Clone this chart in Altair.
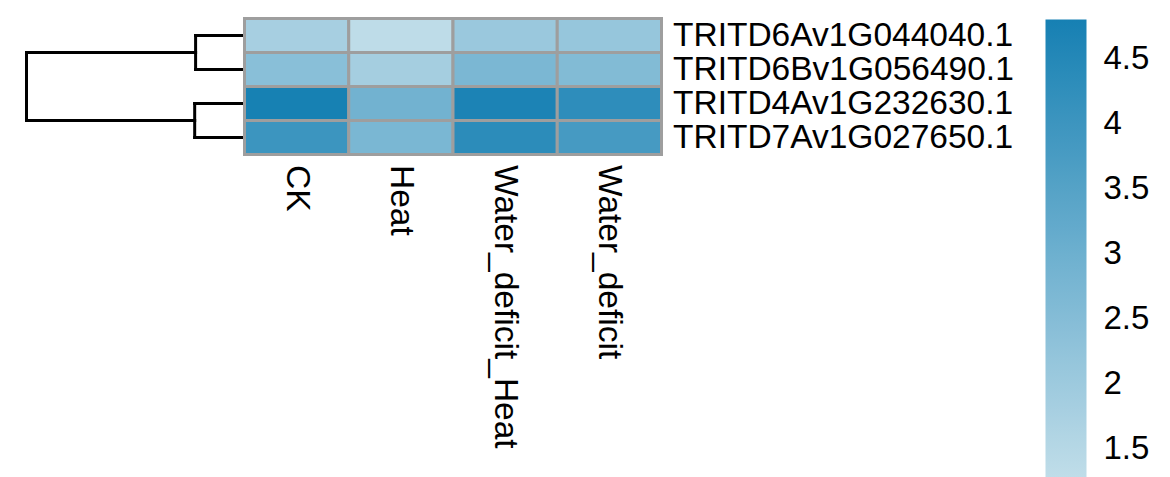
import altair as alt
import pandas as pd

genes = ["TRITD6Av1G044040.1", "TRITD6Bv1G056490.1", "TRITD4Av1G232630.1", "TRITD7Av1G027650.1"]
conditions = ["CK", "Heat", "Water_deficit_Heat", "Water_deficit"]

v_6A_044040 = [1.80, 1.32, 2.07, 2.15]
v_6B_056490 = [2.42, 1.84, 2.71, 2.56]
v_4A_232630 = [4.78, 2.89, 4.68, 4.30]
v_7A_027650 = [4.01, 2.73, 4.34, 3.81]

legend_values = [1.5, 2, 2.5, 3, 3.5, 4, 4.5]
color_domain = [1.28, 4.8]
color_range = ["#c0dde9", "#1680b3"]

# dendrogram merge heights (row clustering)
merge_top = 1.07      # rows 1 & 2
merge_bottom = 1.09   # rows 3 & 4
merge_root = 4.77     # root

rows = []
for g, vals in zip(genes, [v_6A_044040, v_6B_056490, v_4A_232630, v_7A_027650]):
    for c, v in zip(conditions, vals):
        rows.append({"gene": g, "condition": c, "value": v})
df = pd.DataFrame(rows)

leaf = [i + 0.5 for i in range(len(genes))]
mid_top = (leaf[0] + leaf[1]) / 2
mid_bot = (leaf[2] + leaf[3]) / 2
segs = [
    (0, merge_top, leaf[0], leaf[0]),
    (0, merge_top, leaf[1], leaf[1]),
    (merge_top, merge_top, leaf[0], leaf[1]),
    (0, merge_bottom, leaf[2], leaf[2]),
    (0, merge_bottom, leaf[3], leaf[3]),
    (merge_bottom, merge_bottom, leaf[2], leaf[3]),
    (merge_top, merge_root, mid_top, mid_top),
    (merge_bottom, merge_root, mid_bot, mid_bot),
    (merge_root, merge_root, mid_top, mid_bot),
]
seg_df = pd.DataFrame(segs, columns=["h", "h2", "p", "p2"])

dendro = alt.Chart(seg_df).mark_rule(color="black", strokeWidth=3, strokeCap="square").encode(
    x=alt.X("h:Q", scale=alt.Scale(domain=[0, merge_root], reverse=True, nice=False, zero=False), axis=None),
    x2="h2:Q",
    y=alt.Y("p:Q", scale=alt.Scale(domain=[0, len(genes)], reverse=True, nice=False, zero=False), axis=None),
    y2="p2:Q",
).properties(width=218, height=136)

heat = alt.Chart(df).mark_rect(stroke="#9e9e9e", strokeWidth=3).encode(
    x=alt.X("condition:N", sort=conditions,
            scale=alt.Scale(paddingInner=0, paddingOuter=0),
            axis=alt.Axis(orient="bottom", labelAngle=90, labelFontSize=33.5, ticks=False, domain=False,
                          labelPadding=10, title=None, labelColor="black", labelLimit=0)),
    y=alt.Y("gene:N", sort=genes,
            scale=alt.Scale(paddingInner=0, paddingOuter=0),
            axis=alt.Axis(orient="right", labelFontSize=33.5, ticks=False, domain=False,
                          labelPadding=11, title=None, labelColor="black", labelLimit=0)),
    color=alt.Color("value:Q",
                    scale=alt.Scale(domain=color_domain, range=color_range, interpolate="rgb", nice=False, zero=False),
                    legend=alt.Legend(title=None, orient="none", legendX=1019, legendY=1, direction="vertical",
                                      gradientLength=458, gradientThickness=41, labelFontSize=33, labelOffset=17,
                                      values=legend_values, format=".2~f", labelOverlap=False,
                                      gradientStrokeWidth=0, padding=0, labelLimit=0, labelColor="black")),
).properties(width=417, height=136)

chart = alt.hconcat(dendro, heat, spacing=0, bounds="flush").properties(
    padding={"left": 15.5, "top": 8.5, "right": 0, "bottom": 0}
).configure(font="Liberation Sans").configure_view(stroke=None)

chart.save("out.html", embed_options={"renderer": "svg", "actions": False})
